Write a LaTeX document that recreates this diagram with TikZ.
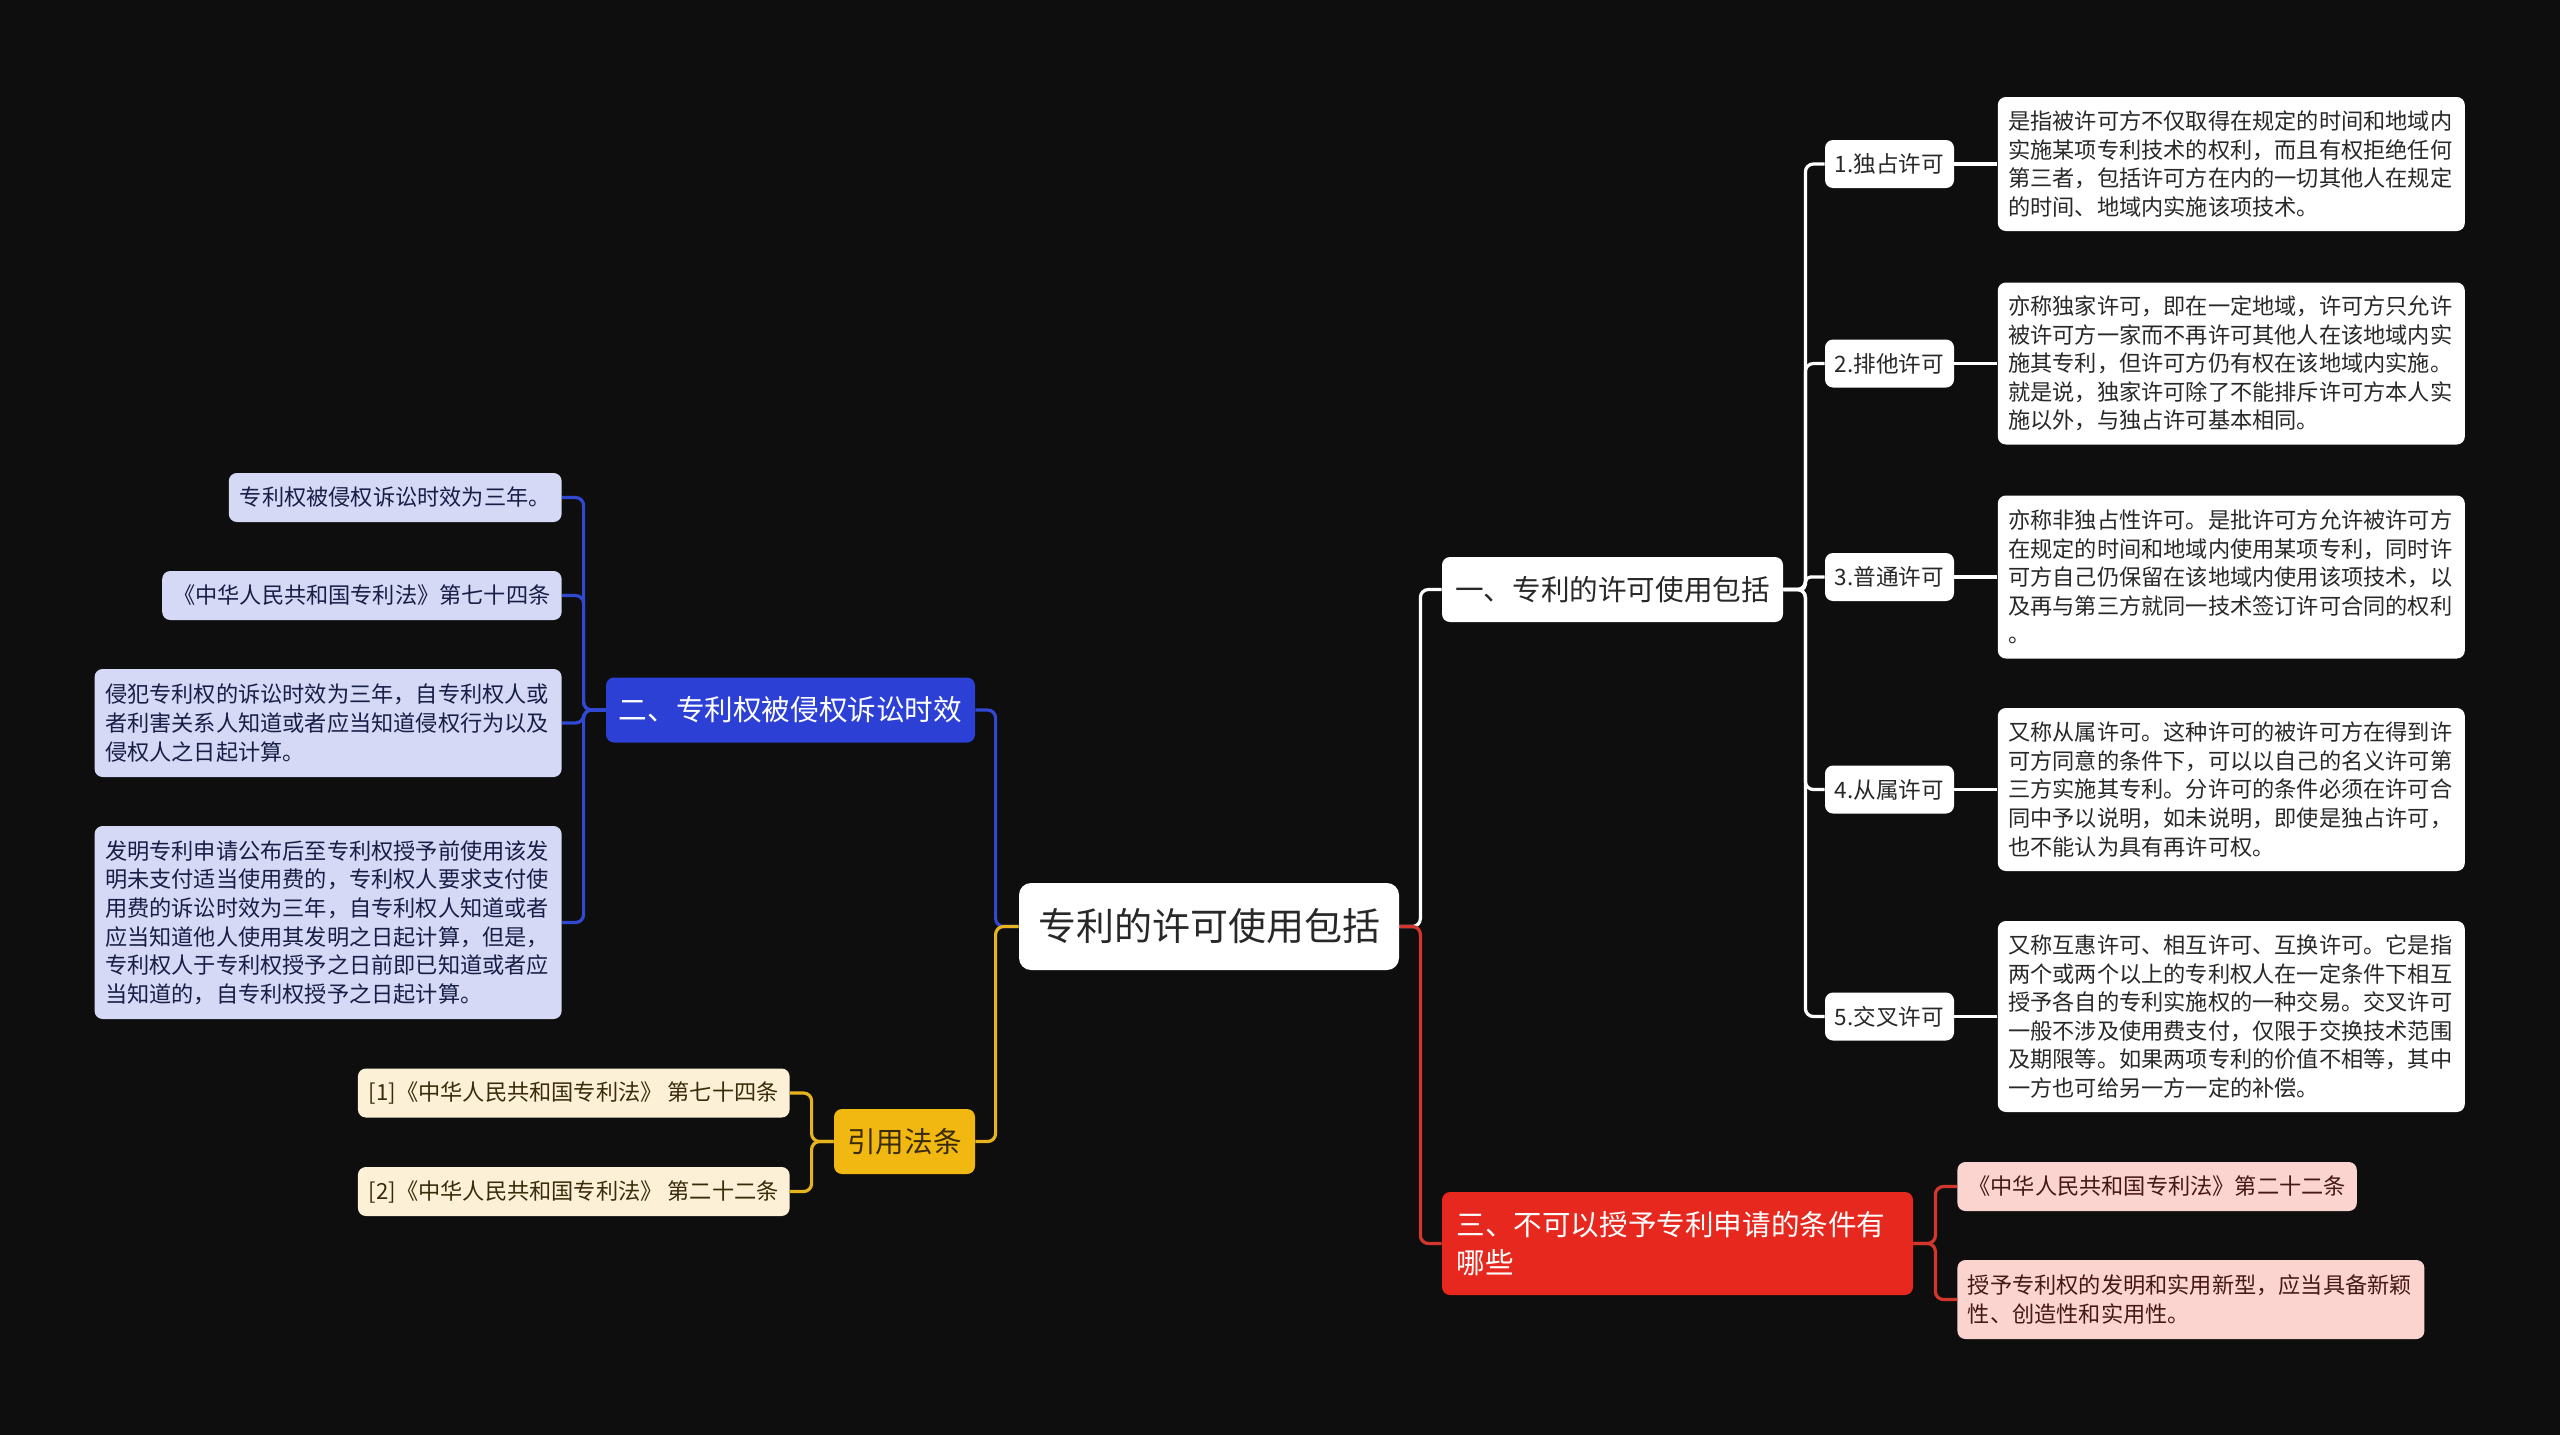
\documentclass[tikz,border=0pt]{standalone}
\usepackage{fontspec}
\setmainfont{Noto Sans CJK SC}
\usepackage{xcolor}
\usepackage{tikz}
\usetikzlibrary{positioning}
\definecolor{bgdark}{RGB}{14,14,14}
\definecolor{inkdark}{RGB}{40,40,40}
\definecolor{branchB}{RGB}{44,64,214}
\definecolor{leafB}{RGB}{213,217,246}
\definecolor{inkB}{RGB}{24,30,70}
\definecolor{lineB}{RGB}{48,72,210}
\definecolor{branchY}{RGB}{240,184,16}
\definecolor{leafY}{RGB}{252,241,214}
\definecolor{inkY}{RGB}{58,44,10}
\definecolor{lineY}{RGB}{232,180,30}
\definecolor{branchR}{RGB}{230,40,30}
\definecolor{leafR}{RGB}{251,212,208}
\definecolor{inkR}{RGB}{70,24,20}
\definecolor{lineR}{RGB}{210,55,45}

\begin{document}
\begin{tikzpicture}[
  x=0.5pt, y=-0.5pt,
  node distance=10pt and 21.5pt,
  box/.style={rectangle, rounded corners=4pt, inner xsep=5.5pt, inner ysep=0pt, align=center},
  rootbox/.style={box, rounded corners=6pt, fill=white, text=inkdark,
                  font=\fontsize{19}{23}\selectfont, minimum width=190pt, minimum height=43.5pt},
  topbox/.style={box, font=\fontsize{14.3}{19}\selectfont, minimum height=32.5pt},
  subbox/.style={box, fill=white, text=inkdark, font=\fontsize{11.3}{14}\selectfont,
                 inner xsep=4pt, minimum width=64.5pt, minimum height=24pt},
  notebox/.style={box, fill=white, text=inkdark, text width=223pt, align=left,
                  inner xsep=5.25pt, font=\fontsize{11.1}{14.3}\selectfont},
  leafbox/.style={box, font=\fontsize{11.1}{14.3}\selectfont, minimum height=24.5pt},
  wline/.style={white, line width=1.6pt, rounded corners=4pt},
  bline/.style={wline, draw=lineB},
  yline/.style={wline, draw=lineY},
  rline/.style={wline, draw=lineR}
]
\fill[bgdark] (0,0) rectangle (2560,1435);

%% ---- Root ----
\node[rootbox] (root) at (1209,926.5) {专利的许可使用包括};

%% ---- Right: kinds of licence ----
\node[topbox, fill=white, text=inkdark, minimum width=170.5pt] (permit) at (1612.5,589.5)
  {一、专利的许可使用包括};
\node[subbox] (p1) at (1889.5,164)    {1.独占许可};
\node[subbox] (p2) at (1889.5,363.5)  {2.排他许可};
\node[subbox] (p3) at (1889.5,577)    {3.普通许可};
\node[subbox] (p4) at (1889.5,789.5)  {4.从属许可};
\node[subbox] (p5) at (1889.5,1016.5) {5.交叉许可};

\node[notebox, minimum height=67pt, right=of p1] (pd1)
  {是指被许可方不仅取得在规定的时间和地域内\\实施某项专利技术的权利，而且有权拒绝任何\\第三者，包括许可方在内的一切其他人在规定\\的时间、地域内实施该项技术。};
\node[notebox, minimum height=81pt, right=of p2] (pd2)
  {亦称独家许可，即在一定地域，许可方只允许\\被许可方一家而不再许可其他人在该地域内实\\施其专利，但许可方仍有权在该地域内实施。\\就是说，独家许可除了不能排斥许可方本人实\\施以外，与独占许可基本相同。};
\node[notebox, minimum height=81.5pt, right=of p3] (pd3)
  {亦称非独占性许可。是批许可方允许被许可方\\在规定的时间和地域内使用某项专利，同时许\\可方自己仍保留在该地域内使用该项技术，以\\及再与第三方就同一技术签订许可合同的权利\\。};
\node[notebox, minimum height=81.5pt, right=of p4] (pd4)
  {又称从属许可。这种许可的被许可方在得到许\\可方同意的条件下，可以以自己的名义许可第\\三方实施其专利。分许可的条件必须在许可合\\同中予以说明，如未说明，即使是独占许可，\\也不能认为具有再许可权。};
\node[notebox, minimum height=95.5pt, right=of p5] (pd5)
  {又称互惠许可、相互许可、互换许可。它是指\\两个或两个以上的专利权人在一定条件下相互\\授予各自的专利实施权的一种交易。交叉许可\\一般不涉及使用费支付，仅限于交换技术范围\\及期限等。如果两项专利的价值不相等，其中\\一方也可给另一方一定的补偿。};

%% ---- Right: conditions ----
\node[topbox, fill=branchR, text=white, text width=221pt, align=left, inner xsep=7.25pt,
      minimum height=51.5pt] (cond) at (1677.5,1243.5)
  {三、不可以授予专利申请的条件有\\哪些};
\node[leafbox, fill=leafR, text=inkR, anchor=west] (c1) at (1957,1186.5)
  {《中华人民共和国专利法》第二十二条};
\node[notebox, fill=leafR, text=inkR, minimum height=39.5pt, anchor=west] (c2) at (1957,1299.5)
  {授予专利权的发明和实用新型，应当具备新颖\\性、创造性和实用性。};

%% ---- Left: limitation period ----
\node[topbox, fill=branchB, text=white, minimum width=184.5pt] (limit) at (790.5,710)
  {二、专利权被侵权诉讼时效};
\node[leafbox, fill=leafB, text=inkB, anchor=east] (l1) at (562,497.5)
  {专利权被侵权诉讼时效为三年。};
\node[leafbox, fill=leafB, text=inkB, anchor=east] (l2) at (562,595.5)
  {《中华人民共和国专利法》第七十四条};
\node[notebox, fill=leafB, text=inkB, minimum height=54pt, anchor=east] (l3) at (562,723)
  {侵犯专利权的诉讼时效为三年，自专利权人或\\者利害关系人知道或者应当知道侵权行为以及\\侵权人之日起计算。};
\node[notebox, fill=leafB, text=inkB, minimum height=96.5pt, anchor=east] (l4) at (562,922.5)
  {发明专利申请公布后至专利权授予前使用该发\\明未支付适当使用费的，专利权人要求支付使\\用费的诉讼时效为三年，自专利权人知道或者\\应当知道他人使用其发明之日起计算，但是，\\专利权人于专利权授予之日前即已知道或者应\\当知道的，自专利权授予之日起计算。};

%% ---- Left: cited articles ----
\node[topbox, fill=branchY, text=inkY, minimum width=70.5pt] (cite) at (904.5,1141.5) {引用法条};
\node[leafbox, fill=leafY, text=inkY, anchor=east] (r1) at (790,1093)
  {[1]《中华人民共和国专利法》 第七十四条};
\node[leafbox, fill=leafY, text=inkY, anchor=east] (r2) at (790,1191.5)
  {[2]《中华人民共和国专利法》 第二十二条};

%% ---- Connectors ----
\draw[bline] (root.west) -- ++(-23,0) |- (limit.east);
\draw[yline] (root.west) -- ++(-23,0) |- (cite.east);
\draw[wline] (root.east) -- ++(21,0) |- (permit.west);
\draw[rline] (root.east) -- ++(21,0) |- (cond.west);
% kinds of licence
\foreach \s in {p1,p2,p4,p5}
  \draw[wline] (permit.east) -- ++(22,0) |- (\s.west);
\draw[wline, rounded corners=2.5pt] (permit.east) -- ++(22,0) |- (p3.west);
\foreach \s in {1,...,5}
  \draw[wline] (p\s.east) -- (pd\s.west);
% conditions
\draw[rline] (cond.east) -- ++(22,0) |- (c1.west);
\draw[rline] (cond.east) -- ++(22,0) |- (c2.west);
% limitation period
\foreach \s in {l1,l2,l3,l4}
  \draw[bline] (limit.west) -- ++(-22,0) |- (\s.east);
% cited articles
\draw[yline] (cite.west) -- ++(-22,0) |- (r1.east);
\draw[yline] (cite.west) -- ++(-22,0) |- (r2.east);
\end{tikzpicture}
\end{document}
